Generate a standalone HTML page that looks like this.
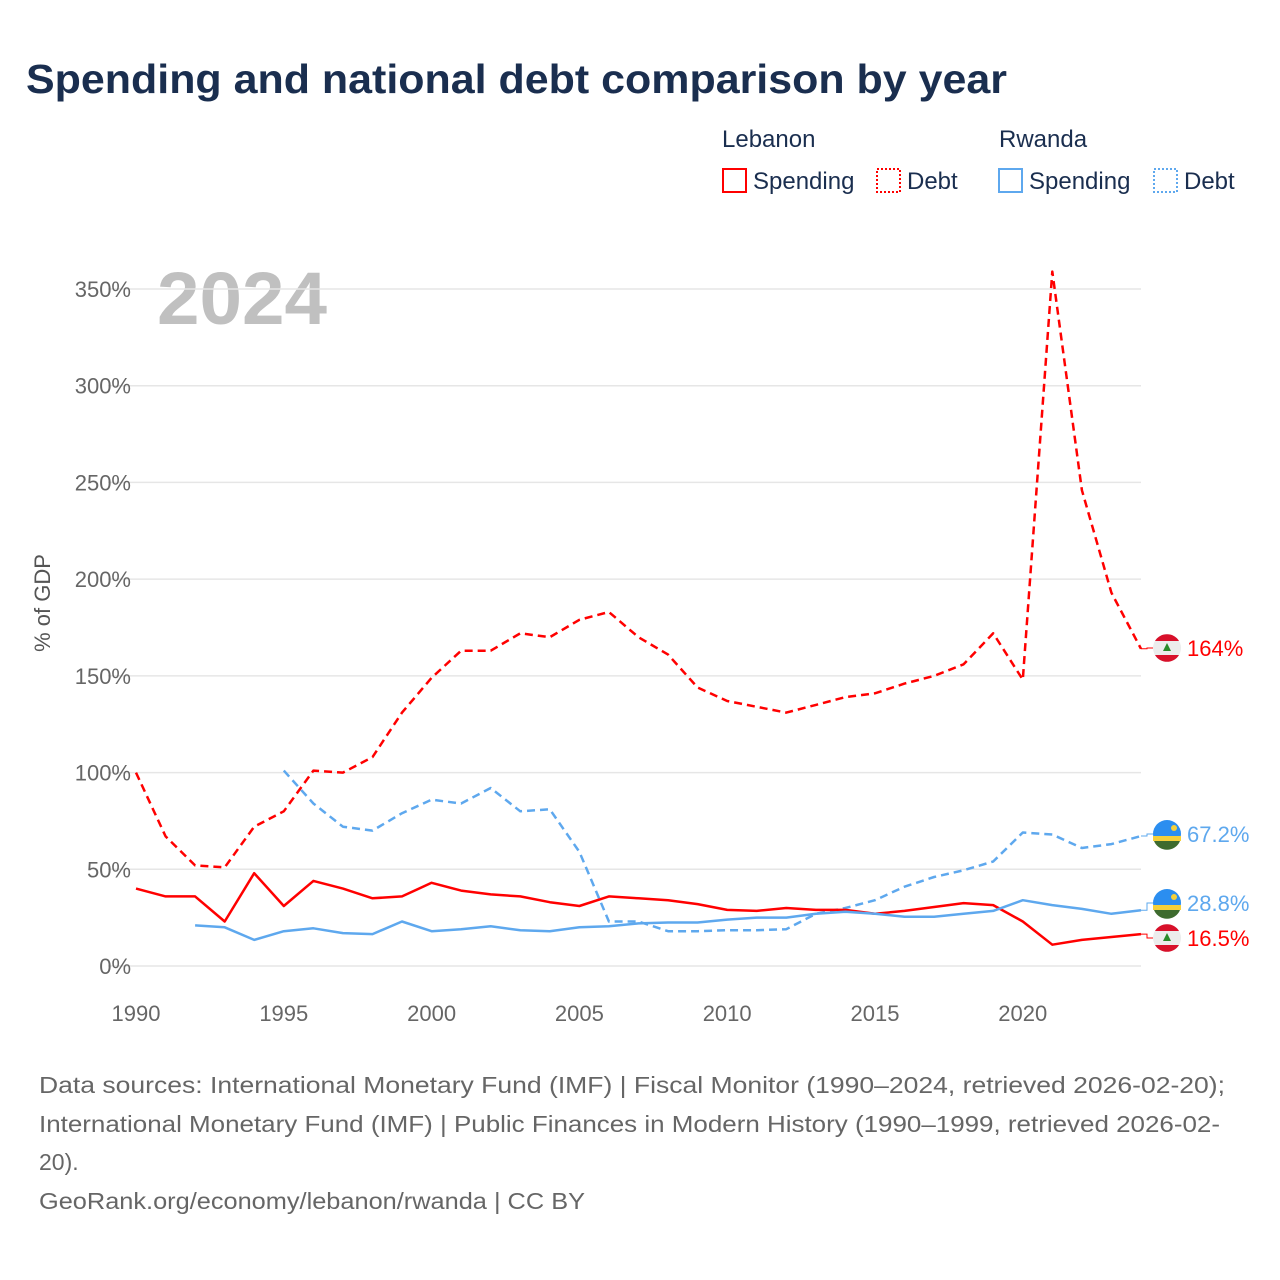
<!DOCTYPE html>
<html><head><meta charset="utf-8"><style>
body{margin:0;background:#fff;font-family:"Liberation Sans",sans-serif}
#root{position:relative;width:1280px;height:1280px;overflow:hidden}
</style></head><body>
<div id="root">
<svg id="chart" width="1280" height="1280">
<text x="26" y="93" font-size="41" font-weight="bold" fill="#1a2e4f" textLength="981" lengthAdjust="spacingAndGlyphs">Spending and national debt comparison by year</text>
<g font-size="24" fill="#1a2e4f">
<text x="722" y="147" fill="#1a2e4f">Lebanon</text>
<text x="999" y="147" fill="#1a2e4f">Rwanda</text>
<g><rect x="723" y="169" width="23" height="23" fill="none" stroke="red" stroke-width="2"/><text x="753" y="189" fill="#1a2e4f">Spending</text></g>
<g><rect x="877" y="169" width="23" height="23" fill="none" stroke="red" stroke-width="2" stroke-dasharray="2,2"/><text x="907" y="189" fill="#1a2e4f">Debt</text></g>
<g><rect x="999" y="169" width="23" height="23" fill="none" stroke="#5ea8ee" stroke-width="2"/><text x="1029" y="189" fill="#1a2e4f">Spending</text></g>
<g><rect x="1154" y="169" width="23" height="23" fill="none" stroke="#5ea8ee" stroke-width="2" stroke-dasharray="2,2"/><text x="1184" y="189" fill="#1a2e4f">Debt</text></g>
</g>
<text x="157" y="324" font-size="74" font-weight="bold" fill="#c0c0c0" textLength="170" lengthAdjust="spacingAndGlyphs">2024</text>
<text transform="translate(50,603) rotate(-90)" text-anchor="middle" font-size="22" fill="#555">% of GDP</text>
<g id="grid"></g><g id="series"></g><g id="labels"></g>
<g font-size="23" fill="#666">
<text x="39" y="1093" textLength="1186" lengthAdjust="spacingAndGlyphs">Data sources: International Monetary Fund (IMF) | Fiscal Monitor (1990–2024, retrieved 2026-02-20);</text>
<text x="39" y="1132" textLength="1181" lengthAdjust="spacingAndGlyphs">International Monetary Fund (IMF) | Public Finances in Modern History (1990–1999, retrieved 2026-02-</text>
<text x="39" y="1170">20).</text>
<text x="39" y="1209" textLength="546" lengthAdjust="spacingAndGlyphs">GeoRank.org/economy/lebanon/rwanda | CC BY</text>
</g>
</svg></div>
<script>
const years=[];for(let y=1990;y<=2024;y++)years.push(y);
const lbnSpending=[40,36,36,23,48,31,44,40,35,36,43,39,37,36,33,31,36,35,34,32,29,28.5,30,29,29,27,28.5,30.5,32.5,31.5,23,11,13.5,15,16.5];
const lbnDebt=[100,67,52,51,72,80,101,100,108,131,149,163,163,172,170,179,183,170,161,144,137,134,131,135,139,141,146,150,156,172,148,359,246,193,164];
const rwaSpending=[null,null,21,20,13.5,18,19.5,17,16.5,23,18,19,20.5,18.5,18,20,20.5,22,22.5,22.5,24,25,25,27,28,27,25.5,25.5,27,28.5,34,31.5,29.5,27,28.8];
const rwaDebt=[null,null,null,null,null,101,84,72,70,79,86,84,92,80,81,59,23,23,18,18,18.5,18.5,19,27,30,34,41,46,49.5,54,69,68,61,63,67.2];
const yTicks=[0,50,100,150,200,250,300,350];
const xTicks=[1990,1995,2000,2005,2010,2015,2020];
const NS="http://www.w3.org/2000/svg";
const X=v=>136+(v-1990)*(1141-136)/34;
const Y=v=>966-v*(966-289)/350;
function mk(tag,attrs,parent){const e=document.createElementNS(NS,tag);for(const k in attrs)e.setAttribute(k,attrs[k]);parent.appendChild(e);return e;}
const grid=document.getElementById('grid');
yTicks.forEach(t=>{
 const l=mk('line',{x1:108,x2:1141,y1:Y(t),y2:Y(t),stroke:'#e6e6e6','stroke-width':1.5},grid);
 
 
 const tx=mk('text',{x:131,y:Y(t)+8,'text-anchor':'end','font-size':22,fill:'#666'},grid);
 tx.textContent=t+'%';
 
 
});
xTicks.forEach(t=>{
 const tx=mk('text',{x:X(t),y:1021,'text-anchor':'middle','font-size':22,fill:'#666'},grid);
 tx.textContent=t;
 
 
});
const ser=document.getElementById('series');
function line(vals,color,dash,name){
 let d='';vals.forEach((v,i)=>{if(v==null)return;d+=(d?'L':'M')+X(years[i]).toFixed(1)+','+Y(v).toFixed(1);});
 const p=mk('path',{d:d,fill:'none',stroke:color,'stroke-width':2.5,'stroke-linejoin':'round'},ser);
 if(dash)p.setAttribute('stroke-dasharray','8,5');
 
 
}
line(lbnDebt,'#ff0000',true,'line-lebanon-debt');
line(rwaDebt,'#5ea8ee',true,'line-rwanda-debt');
line(lbnSpending,'#ff0000',false,'line-lebanon-spending');
line(rwaSpending,'#5ea8ee',false,'line-rwanda-spending');
const lab=document.getElementById('labels');
function endLabel(val,ly,color,flag,text,name){
 const y0=Y(val);
 mk('path',{d:`M1141,${y0}H1147V${ly}H1153`,stroke:color,fill:'none','stroke-width':1},lab);
 const g=mk('g',{},lab);
 
 
 if(flag==='lb'){
  mk('circle',{cx:1167,cy:ly,r:14,fill:'#ececec'},g);
  mk('path',{d:`M1155,${ly-7}A14,14 0 0 1 1179,${ly-7}Z`,fill:'#d8102a'},g);
  mk('path',{d:`M1155,${ly+7}A14,14 0 0 0 1179,${ly+7}Z`,fill:'#d8102a'},g);
  mk('path',{d:`M1167,${ly-5}L1171,${ly+3}H1163Z`,fill:'#2a8a2a'},g);
 } else {
  mk('circle',{cx:1167,cy:ly,r:14,fill:'#2b8ef0'},g);
  mk('rect',{x:1153,y:ly+2,width:28,height:5,fill:'#f5d03a'},g);
  mk('path',{d:`M1154,${ly+7}H1180A14,14 0 0 1 1154,${ly+7}Z`,fill:'#3e6b2e'},g);
  mk('circle',{cx:1174,cy:ly-6,r:3,fill:'#f5d03a'},g);
 }
 const t=mk('text',{x:1187,y:ly+8,'font-size':22,fill:color},g);
 t.textContent=text;
}
endLabel(lbnDebt[34],648,'#ff0000','lb',lbnDebt[34]+'%','end-label-lebanon-debt');
endLabel(rwaDebt[34],834,'#5ea8ee','rw',rwaDebt[34]+'%','end-label-rwanda-debt');
endLabel(rwaSpending[34],903,'#5ea8ee','rw',rwaSpending[34]+'%','end-label-rwanda-spending');
endLabel(lbnSpending[34],938,'#ff0000','lb',lbnSpending[34]+'%','end-label-lebanon-spending');
</script>
</body></html>
